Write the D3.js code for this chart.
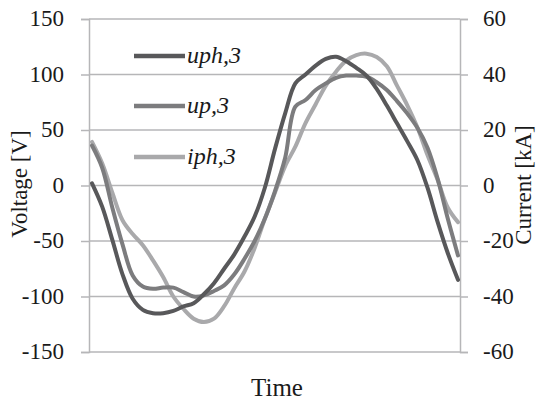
<!DOCTYPE html>
<html>
<head>
<meta charset="utf-8">
<script src="https://cdn.jsdelivr.net/npm/d3@7"></script>
<style>
  html, body { margin: 0; padding: 0; background: #fff; }
  svg { display: block; }
  svg text { font-family: "Liberation Serif", "Times New Roman", serif !important; fill: #1a1a1a; }
</style>
</head>
<body>
<svg id="chart" width="537" height="403"></svg>
<script>
// ---- data ----
const time = [0,1,2,3,4,5,6,7,8,9,10,11,12,13,14,15,16,17,18,19,20,21,22,23,24,25,26,27,28,29,30,31,32,33,34,35,36];
const uph3 = [2,-19,-49,-80,-102,-112,-115,-115,-113,-109,-106,-98,-88,-75,-62,-46,-28,-2,33,65,92,100,108,114,116,112,106,99,87,72,56,40,23,-2,-33,-61,-85];
const up3  = [36,16,-20,-53,-81,-91,-93,-92,-92,-96,-100,-99,-95,-90,-80,-66,-50,-30,-5,25,71,77,86,92,97,99,99,98,93,86,76,65,52,34,6,-30,-63];
const iph3 = [15.7,8,-2.6,-12.5,-17.5,-21.5,-27,-33,-40,-44.5,-48,-49.2,-48,-43.5,-37,-31,-22.5,-12,-2.5,7,14,22.5,29.3,36,41,45,47,47.5,46.3,43,36,29,21,11,2,-8,-13.2];
const voltTicks = [-150,-100,-50,0,50,100,150];
const currTicks = [-60,-40,-20,0,20,40,60];
const seriesNames = ["uph,3","up,3","iph,3"];
const seriesColors = ["#58585a","#7c7c7e","#a9a9ab"];

// ---- layout ----
const svg = d3.select("#chart");
const pL = 89, pR = 460, pT = 19, pB = 352;

const x = d3.scaleLinear().domain([0, 36]).range([92, 458]);
const yV = d3.scaleLinear().domain([-150, 150]).range([pB, pT]);
const yI = d3.scaleLinear().domain([-60, 60]).range([pB, pT]);

const gridColor = "#b6b6b8";
const fmt = d => String(d);

// gridlines
svg.append("g").selectAll("line").data(voltTicks.filter(d => d !== -150)).join("line")
  .attr("x1", pL).attr("x2", pR)
  .attr("y1", d => yV(d)).attr("y2", d => yV(d))
  .attr("stroke", gridColor).attr("stroke-width", 1.5);

// left axis
const axL = svg.append("g").attr("transform", `translate(${pL},0)`)
  .call(d3.axisLeft(yV).tickValues(voltTicks).tickSize(8).tickPadding(17).tickFormat(fmt));
axL.attr("font-family", null);
axL.select(".domain").attr("stroke", gridColor).attr("stroke-width", 1.5);
axL.selectAll(".tick line").attr("stroke", gridColor).attr("stroke-width", 1.5);
axL.selectAll(".tick text").style("font-size", "23px").attr("fill", "#1a1a1a").attr("dy", "0.3em");

// right axis
const axR = svg.append("g").attr("transform", `translate(${pR},0)`)
  .call(d3.axisRight(yI).tickValues(currTicks).tickSize(8).tickPadding(15).tickFormat(fmt));
axR.attr("font-family", null);
axR.select(".domain").attr("stroke", gridColor).attr("stroke-width", 1.5);
axR.selectAll(".tick line").attr("stroke", gridColor).attr("stroke-width", 1.5);
axR.selectAll(".tick text").style("font-size", "23px").attr("fill", "#1a1a1a").attr("dy", "0.3em");

// bottom axis line
svg.append("line").attr("x1", pL).attr("x2", pR).attr("y1", pB).attr("y2", pB)
  .attr("stroke", gridColor).attr("stroke-width", 1.5);

// series
const curve = d3.curveCatmullRom.alpha(0.5);
const lineV = d3.line().x((d, i) => x(time[i])).y(d => yV(d)).curve(curve);
const lineI = d3.line().x((d, i) => x(time[i])).y(d => yI(d)).curve(curve);

svg.append("path").attr("d", lineI(iph3)).attr("fill", "none")
  .attr("stroke", seriesColors[2]).attr("stroke-width", 4).attr("stroke-linecap", "round").attr("stroke-linejoin", "round");
svg.append("path").attr("d", lineV(up3)).attr("fill", "none")
  .attr("stroke", seriesColors[1]).attr("stroke-width", 4).attr("stroke-linecap", "round").attr("stroke-linejoin", "round");
svg.append("path").attr("d", lineV(uph3)).attr("fill", "none")
  .attr("stroke", seriesColors[0]).attr("stroke-width", 4).attr("stroke-linecap", "round").attr("stroke-linejoin", "round");

// legend
const legY = [56, 106, 157];
const leg = svg.append("g");
seriesNames.forEach((name, i) => {
  leg.append("line").attr("x1", 134).attr("x2", 185).attr("y1", legY[i]).attr("y2", legY[i])
    .attr("stroke", seriesColors[i]).attr("stroke-width", 4.5);
  leg.append("text").attr("x", 187).attr("y", legY[i] + 7)
    .style("font-size", "24px").style("font-style", "italic").text(name);
});

// axis titles
svg.append("text").attr("transform", "translate(27,184) rotate(-90)")
  .attr("text-anchor", "middle").style("font-size", "23px").text("Voltage [V]");
svg.append("text").attr("transform", "translate(531,185) rotate(-90)")
  .attr("text-anchor", "middle").style("font-size", "23px").text("Current [kA]");
svg.append("text").attr("x", 277).attr("y", 396)
  .attr("text-anchor", "middle").style("font-size", "25px").text("Time");
</script>
</body>
</html>
